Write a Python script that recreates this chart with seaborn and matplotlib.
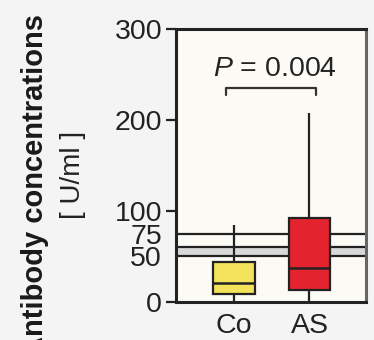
import matplotlib
matplotlib.use("Agg")
import matplotlib.pyplot as plt
import seaborn as sns
import pandas as pd

# Five-number summaries per group (min, Q1, median, Q3, max), U/ml
groups = ["Co", "AS"]
co_values = [0, 8.5, 20.5, 44, 85]
as_values = [0, 13, 37, 92, 208]
box_colors = ["#f2e35a", "#e3232d"]

# Reference cut-off lines and the borderline band
cutoff_lines = [50, 60, 75]
band_range = [50, 60]

y_ticks = [0, 50, 75, 100, 200, 300]
y_tick_labels = ["0", "50", "75", "100", "200", "300"]
p_text = "$\\mathit{P}$ = 0.004"
bracket_ends = [-0.11, 1.09]
bracket_y = [228, 235]

df = pd.DataFrame({
    "group": ["Co"] * len(co_values) + ["AS"] * len(as_values),
    "value": co_values + as_values,
})

sns.set_style("white")
plt.rcParams["font.family"] = ["Liberation Sans", "DejaVu Sans"]
plt.rcParams["mathtext.fontset"] = "custom"
plt.rcParams["mathtext.it"] = "Liberation Sans:italic"
plt.rcParams["mathtext.rm"] = "Liberation Sans"

fig = plt.figure(figsize=(3.74, 3.40), dpi=100, facecolor="#f4f4f4")
ax = fig.add_axes([0.4706, 0.1118, 0.9786 - 0.4706, 0.9147 - 0.1118])
ax.set_facecolor("#fcfaf4")

ax.axhspan(band_range[0], band_range[1], color="#d8d8d8", zorder=0.5, lw=0)
for yv in cutoff_lines:
    ax.axhline(yv, color="#222222", lw=1.6, zorder=1)

sns.boxplot(
    data=df, x="group", y="value", order=groups, hue="group",
    hue_order=groups, palette=box_colors, saturation=1, legend=False,
    width=0.55, whis=(0, 100), showcaps=False, ax=ax,
    linecolor="#222222", linewidth=1.6,
    boxprops=dict(zorder=3), medianprops=dict(zorder=4, lw=1.8),
    whiskerprops=dict(zorder=2),
)

# Significance bracket
x0, x1 = bracket_ends
ax.plot([x0, x0, x1, x1], [bracket_y[0], bracket_y[1], bracket_y[1], bracket_y[0]],
        color="#333333", lw=1.6, clip_on=False)
ax.text(0.54, 256, p_text, ha="center", va="center", fontsize=20.5, color="#222222")

ax.set_xlim(-0.77, 1.75)
ax.set_ylim(0, 300)
ax.set_yticks(y_ticks)
ax.set_yticklabels(y_tick_labels)
ax.tick_params(axis="y", length=7, width=1.6, pad=3, labelsize=20.5,
               left=True, color="#222222", labelcolor="#222222")
for tick, val in zip(ax.yaxis.get_major_ticks(), y_ticks):
    if val in (50, 75):
        tick.tick1line.set_visible(False)
ax.tick_params(axis="x", length=0, pad=8, labelsize=20.5, labelcolor="#222222")
ax.set_xlabel("")
ax.set_ylabel("")

for side in ["left", "top", "bottom"]:
    ax.spines[side].set_color("#222222")
    ax.spines[side].set_linewidth(2.2)
ax.spines["right"].set_color("#666666")
ax.spines["right"].set_linewidth(2.2)

fig.text(35 / 374, 1 - 14 / 340, "Antibody concentrations", rotation=90,
         ha="center", va="top", fontsize=21, fontweight="bold", color="#1a1a1a")
fig.text(73 / 374, 1 - 175 / 340, "[ U/ml ]", rotation=90,
         ha="center", va="center", fontsize=20, color="#222222")

fig.savefig("out.png", dpi=100, facecolor=fig.get_facecolor())
